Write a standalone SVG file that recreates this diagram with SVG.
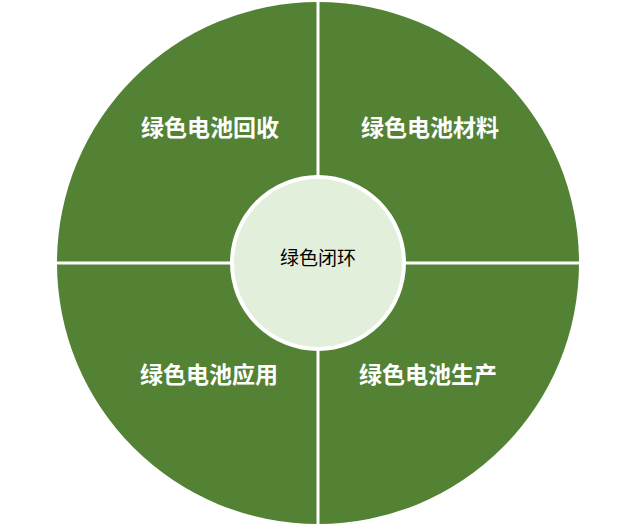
<svg xmlns="http://www.w3.org/2000/svg" width="621" height="531" viewBox="0 0 621 531">
<style>
.q{fill:#548235;}
.lbl{font-family:"Noto Sans CJK SC","Noto Sans",sans-serif;font-size:23px;font-weight:bold;fill:#ffffff;text-anchor:middle;}
.sep{stroke:#ffffff;stroke-width:3;}
.hub{fill:#E2EFDA;stroke:#ffffff;stroke-width:4;}
.hubt{font-family:"Noto Sans CJK SC","Noto Sans",sans-serif;font-size:19px;fill:#000000;text-anchor:middle;}
</style>
<rect width="621" height="531" fill="#ffffff"/>
<g id="recycle">
<path class="q" d="M318,263 L57,263 A261,261 0 0 1 318,2 Z"/>
<text class="lbl" x="210" y="136">绿色电池回收</text>
</g>
<g id="material">
<path class="q" d="M318,263 L318,2 A261,261 0 0 1 579,263 Z"/>
<text class="lbl" x="430" y="136">绿色电池材料</text>
</g>
<g id="production">
<path class="q" d="M318,263 L579,263 A261,261 0 0 1 318,524 Z"/>
<text class="lbl" x="428" y="383">绿色电池生产</text>
</g>
<g id="application">
<path class="q" d="M318,263 L318,524 A261,261 0 0 1 57,263 Z"/>
<text class="lbl" x="209" y="383">绿色电池应用</text>
</g>
<g id="connectors">
<line class="sep" x1="318" y1="0" x2="318" y2="527"/>
<line class="sep" x1="54" y1="263" x2="582" y2="263"/>
</g>
<g id="closed-loop">
<circle class="hub" cx="318" cy="263" r="86"/>
<text class="hubt" x="318" y="265">绿色闭环</text>
</g>
</svg>
